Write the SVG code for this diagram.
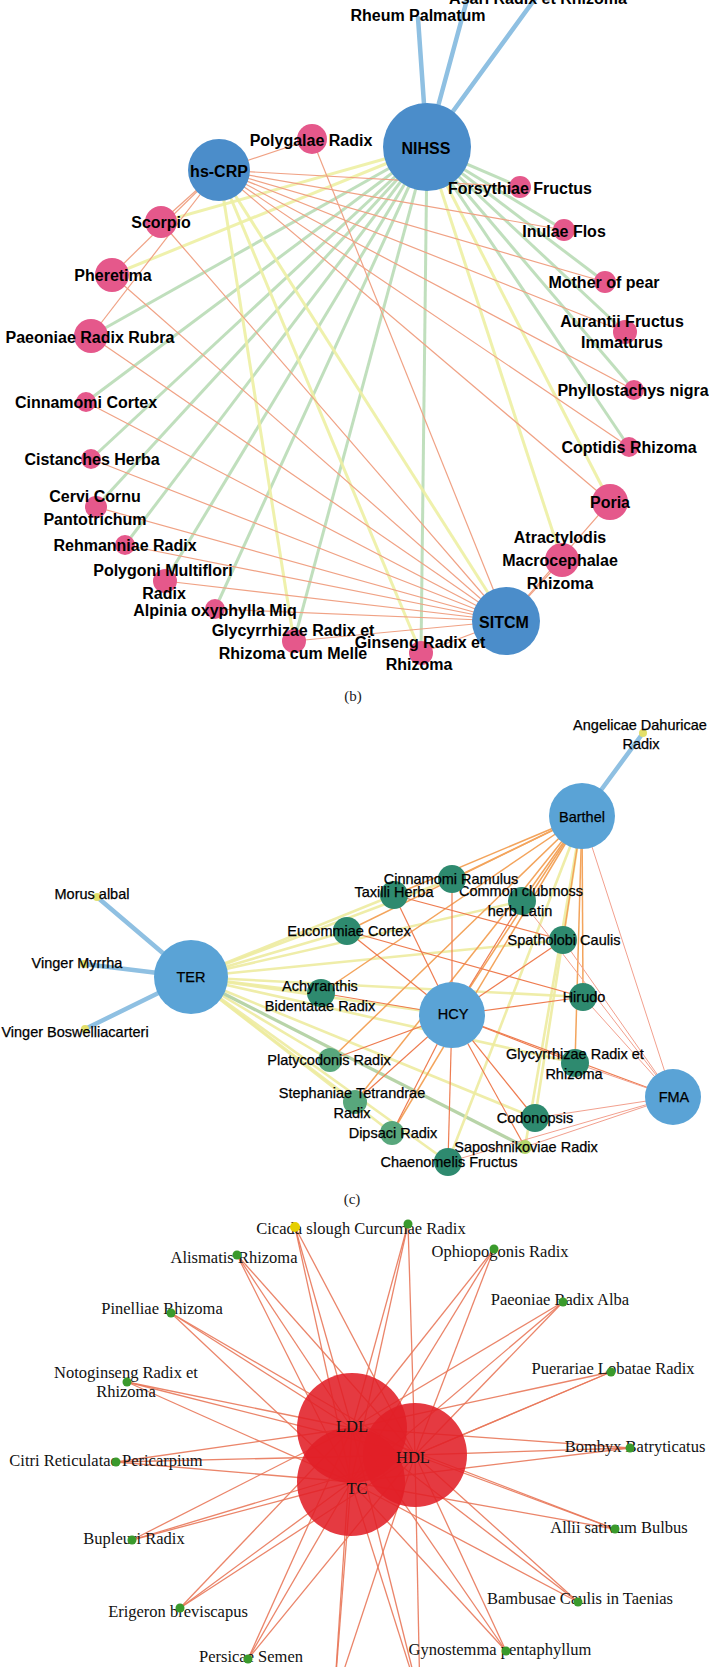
<svg xmlns="http://www.w3.org/2000/svg" width="709" height="1667" viewBox="0 0 709 1667">
<style>
.tb{font-family:"Liberation Sans",Arial,sans-serif;font-weight:bold;font-size:16px;fill:#000;text-anchor:middle;dominant-baseline:central}
.tc{font-family:"Liberation Sans",Arial,sans-serif;font-size:14.5px;fill:#000;stroke:#000;stroke-width:0.25;text-anchor:middle;dominant-baseline:central}
.td{font-family:"Liberation Serif","Times New Roman",serif;font-size:16.5px;fill:#111;text-anchor:middle;dominant-baseline:central}
.cap{font-family:"Liberation Serif","Times New Roman",serif;font-size:15px;fill:#222;text-anchor:middle;dominant-baseline:central}
.bb{fill:#4b8dca}
.pk{fill:#e5588b}
.bc{fill:#5aa3d6}
.tl{fill:#2e8a6f}
.lg{fill:#58a77c}
.yd{fill:#e3df6a}
.rd{fill:#e11f27;opacity:.88}
.gd{fill:#3a9a2c}
.eb{stroke:#8fc0e2;stroke-width:4.5;stroke-linecap:round}
.eg{stroke:#b6dab2;stroke-width:3;opacity:.85}
.ey{stroke:#eef0a4;stroke-width:3;opacity:.9}
.eo{stroke:#f0a285;stroke-width:1.2}
.cy{stroke:#eeeca0;stroke-width:2.6;opacity:.9}
.cg{stroke:#b8d4a8;stroke-width:3.2}
.co{stroke:#f3a45c;stroke-width:1.5}
.cr{stroke:#ee7c50;stroke-width:1.2}
.cf{stroke:#f2a08e;stroke-width:1}
.dr{stroke:#e9785a;stroke-width:1.3;opacity:.9}
</style>
<rect width="709" height="1667" fill="#fff"/>
<g id="connectors">
<!-- panel b -->
<line class="eb" x1="427" y1="147" x2="418" y2="18"/>
<line class="eb" x1="427" y1="147" x2="468" y2="-4"/>
<line class="eb" x1="427" y1="147" x2="537" y2="-4"/>
<line class="eg" x1="427" y1="147" x2="520" y2="187"/>
<line class="eg" x1="427" y1="147" x2="564" y2="230"/>
<line class="eg" x1="427" y1="147" x2="605" y2="282"/>
<line class="eg" x1="427" y1="147" x2="625" y2="332"/>
<line class="eg" x1="427" y1="147" x2="634" y2="390"/>
<line class="eg" x1="427" y1="147" x2="629" y2="447"/>
<line class="eg" x1="427" y1="147" x2="91" y2="336"/>
<line class="eg" x1="427" y1="147" x2="86" y2="402"/>
<line class="eg" x1="427" y1="147" x2="91" y2="459"/>
<line class="eg" x1="427" y1="147" x2="96" y2="507"/>
<line class="eg" x1="427" y1="147" x2="125" y2="545"/>
<line class="eg" x1="427" y1="147" x2="165" y2="581"/>
<line class="eg" x1="427" y1="147" x2="215" y2="609"/>
<line class="eg" x1="427" y1="147" x2="294" y2="641"/>
<line class="eg" x1="427" y1="147" x2="421" y2="653"/>
<line class="ey" x1="427" y1="147" x2="161" y2="222"/>
<line class="ey" x1="427" y1="147" x2="112" y2="275"/>
<line class="ey" x1="427" y1="147" x2="610" y2="502"/>
<line class="ey" x1="427" y1="147" x2="562" y2="560"/>
<line class="ey" x1="219" y1="170" x2="506" y2="621"/>
<line class="ey" x1="219" y1="170" x2="421" y2="653"/>
<line class="ey" x1="219" y1="170" x2="294" y2="641"/>
<line class="eo" x1="219" y1="170" x2="312" y2="139"/>
<line class="eo" x1="219" y1="170" x2="161" y2="222"/>
<line class="eo" x1="219" y1="170" x2="112" y2="275"/>
<line class="eo" x1="219" y1="170" x2="91" y2="336"/>
<line class="eo" x1="219" y1="170" x2="520" y2="187"/>
<line class="eo" x1="219" y1="170" x2="564" y2="230"/>
<line class="eo" x1="219" y1="170" x2="605" y2="282"/>
<line class="eo" x1="219" y1="170" x2="625" y2="332"/>
<line class="eo" x1="219" y1="170" x2="634" y2="390"/>
<line class="eo" x1="219" y1="170" x2="629" y2="447"/>
<line class="eo" x1="219" y1="170" x2="610" y2="502"/>
<line class="eo" x1="506" y1="621" x2="312" y2="139"/>
<line class="eo" x1="506" y1="621" x2="161" y2="222"/>
<line class="eo" x1="506" y1="621" x2="112" y2="275"/>
<line class="eo" x1="506" y1="621" x2="91" y2="336"/>
<line class="eo" x1="506" y1="621" x2="86" y2="402"/>
<line class="eo" x1="506" y1="621" x2="91" y2="459"/>
<line class="eo" x1="506" y1="621" x2="96" y2="507"/>
<line class="eo" x1="506" y1="621" x2="125" y2="545"/>
<line class="eo" x1="506" y1="621" x2="165" y2="581"/>
<line class="eo" x1="506" y1="621" x2="215" y2="609"/>
<line class="eo" x1="506" y1="621" x2="294" y2="641"/>
<line class="eo" x1="506" y1="621" x2="421" y2="653"/>
<line class="eo" x1="506" y1="621" x2="610" y2="502"/>
<line class="eo" x1="506" y1="621" x2="562" y2="560"/>
<!-- panel c -->
<line class="eb" x1="582" y1="816" x2="643" y2="733"/>
<line class="eb" x1="191" y1="977" x2="97" y2="897"/>
<line class="eb" x1="191" y1="977" x2="84" y2="964"/>
<line class="eb" x1="191" y1="977" x2="85" y2="1029"/>
<line class="cy" x1="191" y1="977" x2="394" y2="895"/>
<line class="cy" x1="191" y1="977" x2="452" y2="879"/>
<line class="cy" x1="191" y1="977" x2="522" y2="901"/>
<line class="cy" x1="191" y1="977" x2="347" y2="931"/>
<line class="cy" x1="191" y1="977" x2="563" y2="940"/>
<line class="cy" x1="191" y1="977" x2="321" y2="993"/>
<line class="cy" x1="191" y1="977" x2="583" y2="997"/>
<line class="cy" x1="191" y1="977" x2="452" y2="1015"/>
<line class="cy" x1="191" y1="977" x2="330" y2="1060"/>
<line class="cy" x1="191" y1="977" x2="355" y2="1102"/>
<line class="cy" x1="191" y1="977" x2="392" y2="1133"/>
<line class="cy" x1="191" y1="977" x2="448" y2="1162"/>
<line class="cy" x1="191" y1="977" x2="535" y2="1118"/>
<line class="cy" x1="191" y1="977" x2="575" y2="1063"/>
<line class="cg" x1="191" y1="977" x2="525" y2="1147"/>
<line class="cy" x1="582" y1="816" x2="525" y2="1147"/>
<line class="cy" x1="582" y1="816" x2="535" y2="1118"/>
<line class="cy" x1="582" y1="816" x2="448" y2="1162"/>
<line class="co" x1="582" y1="816" x2="452" y2="879"/>
<line class="co" x1="582" y1="816" x2="394" y2="895"/>
<line class="co" x1="582" y1="816" x2="347" y2="931"/>
<line class="co" x1="582" y1="816" x2="321" y2="993"/>
<line class="co" x1="582" y1="816" x2="330" y2="1060"/>
<line class="co" x1="582" y1="816" x2="392" y2="1133"/>
<line class="co" x1="582" y1="816" x2="355" y2="1102"/>
<line class="co" x1="582" y1="816" x2="583" y2="997"/>
<line class="co" x1="582" y1="816" x2="575" y2="1063"/>
<line class="co" x1="582" y1="816" x2="563" y2="940"/>
<line class="co" x1="582" y1="816" x2="522" y2="901"/>
<line class="co" x1="582" y1="816" x2="452" y2="1015"/>
<line class="cr" x1="452" y1="1015" x2="452" y2="879"/>
<line class="cr" x1="452" y1="1015" x2="394" y2="895"/>
<line class="cr" x1="452" y1="1015" x2="522" y2="901"/>
<line class="cr" x1="452" y1="1015" x2="347" y2="931"/>
<line class="cr" x1="452" y1="1015" x2="563" y2="940"/>
<line class="cr" x1="452" y1="1015" x2="321" y2="993"/>
<line class="cr" x1="452" y1="1015" x2="583" y2="997"/>
<line class="cr" x1="452" y1="1015" x2="330" y2="1060"/>
<line class="cr" x1="452" y1="1015" x2="575" y2="1063"/>
<line class="cr" x1="452" y1="1015" x2="535" y2="1118"/>
<line class="cr" x1="452" y1="1015" x2="392" y2="1133"/>
<line class="cr" x1="452" y1="1015" x2="448" y2="1162"/>
<line class="cr" x1="452" y1="1015" x2="525" y2="1147"/>
<line class="cr" x1="452" y1="1015" x2="355" y2="1102"/>
<line class="cr" x1="452" y1="1015" x2="673" y2="1097"/>
<line class="cr" x1="394" y1="895" x2="563" y2="940"/>
<line class="cr" x1="347" y1="931" x2="583" y2="997"/>
<line class="cf" x1="673" y1="1097" x2="583" y2="997"/>
<line class="cf" x1="673" y1="1097" x2="575" y2="1063"/>
<line class="cf" x1="673" y1="1097" x2="535" y2="1118"/>
<line class="cf" x1="673" y1="1097" x2="563" y2="940"/>
<line class="cf" x1="673" y1="1097" x2="522" y2="901"/>
<line class="cf" x1="673" y1="1097" x2="525" y2="1147"/>
<line class="cf" x1="673" y1="1097" x2="448" y2="1162"/>
<line class="cf" x1="673" y1="1097" x2="582" y2="816"/>
<!-- panel d -->
<line class="dr" x1="295" y1="1227" x2="352" y2="1428"/>
<line class="dr" x1="295" y1="1227" x2="415" y2="1455"/>
<line class="dr" x1="295" y1="1227" x2="351" y2="1482"/>
<line class="dr" x1="408" y1="1224" x2="352" y2="1428"/>
<line class="dr" x1="408" y1="1224" x2="415" y2="1455"/>
<line class="dr" x1="408" y1="1224" x2="351" y2="1482"/>
<line class="dr" x1="237" y1="1255" x2="352" y2="1428"/>
<line class="dr" x1="237" y1="1255" x2="415" y2="1455"/>
<line class="dr" x1="237" y1="1255" x2="351" y2="1482"/>
<line class="dr" x1="494" y1="1249" x2="352" y2="1428"/>
<line class="dr" x1="494" y1="1249" x2="415" y2="1455"/>
<line class="dr" x1="494" y1="1249" x2="351" y2="1482"/>
<line class="dr" x1="171" y1="1313" x2="352" y2="1428"/>
<line class="dr" x1="171" y1="1313" x2="415" y2="1455"/>
<line class="dr" x1="171" y1="1313" x2="351" y2="1482"/>
<line class="dr" x1="563" y1="1302" x2="352" y2="1428"/>
<line class="dr" x1="563" y1="1302" x2="415" y2="1455"/>
<line class="dr" x1="563" y1="1302" x2="351" y2="1482"/>
<line class="dr" x1="127" y1="1382" x2="352" y2="1428"/>
<line class="dr" x1="127" y1="1382" x2="415" y2="1455"/>
<line class="dr" x1="127" y1="1382" x2="351" y2="1482"/>
<line class="dr" x1="611" y1="1372" x2="352" y2="1428"/>
<line class="dr" x1="611" y1="1372" x2="415" y2="1455"/>
<line class="dr" x1="611" y1="1372" x2="351" y2="1482"/>
<line class="dr" x1="630" y1="1448" x2="352" y2="1428"/>
<line class="dr" x1="630" y1="1448" x2="415" y2="1455"/>
<line class="dr" x1="630" y1="1448" x2="351" y2="1482"/>
<line class="dr" x1="116" y1="1462" x2="352" y2="1428"/>
<line class="dr" x1="116" y1="1462" x2="415" y2="1455"/>
<line class="dr" x1="116" y1="1462" x2="351" y2="1482"/>
<line class="dr" x1="132" y1="1540" x2="352" y2="1428"/>
<line class="dr" x1="132" y1="1540" x2="415" y2="1455"/>
<line class="dr" x1="132" y1="1540" x2="351" y2="1482"/>
<line class="dr" x1="615" y1="1529" x2="352" y2="1428"/>
<line class="dr" x1="615" y1="1529" x2="415" y2="1455"/>
<line class="dr" x1="615" y1="1529" x2="351" y2="1482"/>
<line class="dr" x1="180" y1="1608" x2="352" y2="1428"/>
<line class="dr" x1="180" y1="1608" x2="415" y2="1455"/>
<line class="dr" x1="180" y1="1608" x2="351" y2="1482"/>
<line class="dr" x1="578" y1="1602" x2="352" y2="1428"/>
<line class="dr" x1="578" y1="1602" x2="415" y2="1455"/>
<line class="dr" x1="578" y1="1602" x2="351" y2="1482"/>
<line class="dr" x1="248" y1="1659" x2="352" y2="1428"/>
<line class="dr" x1="248" y1="1659" x2="415" y2="1455"/>
<line class="dr" x1="248" y1="1659" x2="351" y2="1482"/>
<line class="dr" x1="506" y1="1651" x2="352" y2="1428"/>
<line class="dr" x1="506" y1="1651" x2="415" y2="1455"/>
<line class="dr" x1="506" y1="1651" x2="351" y2="1482"/>
<line class="dr" x1="334" y1="1700" x2="352" y2="1428"/>
<line class="dr" x1="334" y1="1700" x2="415" y2="1455"/>
<line class="dr" x1="334" y1="1700" x2="351" y2="1482"/>
<line class="dr" x1="420" y1="1700" x2="352" y2="1428"/>
<line class="dr" x1="420" y1="1700" x2="415" y2="1455"/>
<line class="dr" x1="420" y1="1700" x2="351" y2="1482"/>
</g>
<!-- panel b nodes -->
<g id="asari"><text class="tb" x="538" y="-2">Asari Radix et Rhizoma</text></g>
<g id="rheum"><text class="tb" x="418" y="15">Rheum Palmatum</text></g>
<g id="nihss"><circle class="bb" cx="427" cy="147" r="44"/><text class="tb" x="426" y="148">NIHSS</text></g>
<g id="hscrp"><circle class="bb" cx="219" cy="170" r="31"/><text class="tb" x="219" y="171">hs-CRP</text></g>
<g id="sitcm"><circle class="bb" cx="506" cy="621" r="34"/><text class="tb" x="504" y="622">SITCM</text></g>
<g id="polygalae"><circle class="pk" cx="312" cy="139" r="15"/><text class="tb" x="311" y="140">Polygalae Radix</text></g>
<g id="forsythiae"><circle class="pk" cx="520" cy="187" r="11"/><text class="tb" x="520" y="188">Forsythiae Fructus</text></g>
<g id="inulae"><circle class="pk" cx="564" cy="230" r="11"/><text class="tb" x="564" y="231">Inulae Flos</text></g>
<g id="scorpio"><circle class="pk" cx="161" cy="222" r="16"/><text class="tb" x="161" y="222">Scorpio</text></g>
<g id="pheretima"><circle class="pk" cx="112" cy="275" r="17"/><text class="tb" x="113" y="275">Pheretima</text></g>
<g id="mother"><circle class="pk" cx="605" cy="282" r="11"/><text class="tb" x="604" y="282">Mother of pear</text></g>
<g id="aurantii"><circle class="pk" cx="625" cy="332" r="12"/><text class="tb" x="622" y="321">Aurantii Fructus</text><text class="tb" x="622" y="342">Immaturus</text></g>
<g id="paeoniae-rubra"><circle class="pk" cx="91" cy="336" r="17"/><text class="tb" x="90" y="337">Paeoniae Radix Rubra</text></g>
<g id="phyllostachys"><circle class="pk" cx="634" cy="390" r="10"/><text class="tb" x="633" y="390">Phyllostachys nigra</text></g>
<g id="cinnamomi-cortex"><circle class="pk" cx="86" cy="402" r="10"/><text class="tb" x="86" y="402">Cinnamomi Cortex</text></g>
<g id="coptidis"><circle class="pk" cx="629" cy="447" r="10"/><text class="tb" x="629" y="447">Coptidis Rhizoma</text></g>
<g id="cistanches"><circle class="pk" cx="91" cy="459" r="10"/><text class="tb" x="92" y="459">Cistanches Herba</text></g>
<g id="poria"><circle class="pk" cx="610" cy="502" r="18"/><text class="tb" x="610" y="502">Poria</text></g>
<g id="cervi"><circle class="pk" cx="96" cy="507" r="11"/><text class="tb" x="95" y="496">Cervi Cornu</text><text class="tb" x="95" y="519">Pantotrichum</text></g>
<g id="atractylodis"><circle class="pk" cx="562" cy="560" r="17"/><text class="tb" x="560" y="537">Atractylodis</text><text class="tb" x="560" y="560">Macrocephalae</text><text class="tb" x="560" y="583">Rhizoma</text></g>
<g id="rehmanniae"><circle class="pk" cx="125" cy="545" r="10"/><text class="tb" x="125" y="545">Rehmanniae Radix</text></g>
<g id="polygoni"><circle class="pk" cx="165" cy="581" r="12"/><text class="tb" x="163" y="570">Polygoni Multiflori</text><text class="tb" x="164" y="593">Radix</text></g>
<g id="alpinia"><circle class="pk" cx="215" cy="609" r="10"/><text class="tb" x="215" y="610">Alpinia oxyphylla Miq</text></g>
<g id="glycyrrhizae-melle"><circle class="pk" cx="294" cy="641" r="12"/><text class="tb" x="293" y="630">Glycyrrhizae Radix et</text><text class="tb" x="293" y="653">Rhizoma cum Melle</text></g>
<g id="ginseng"><circle class="pk" cx="421" cy="653" r="12"/><text class="tb" x="420" y="642">Ginseng Radix et</text><text class="tb" x="419" y="664">Rhizoma</text></g>
<text class="cap" x="353" y="696">(b)</text>
<!-- panel c nodes -->
<g id="angelicae"><circle class="yd" cx="643" cy="733" r="4"/><text class="tc" x="640" y="725">Angelicae Dahuricae</text><text class="tc" x="641" y="744">Radix</text></g>
<g id="barthel"><circle class="bc" cx="582" cy="816" r="33"/><text class="tc" x="582" y="817">Barthel</text></g>
<g id="morus"><circle class="yd" cx="97" cy="897" r="4"/><text class="tc" x="92" y="894">Morus albal</text></g>
<g id="myrrha"><circle class="yd" cx="84" cy="964" r="4"/><text class="tc" x="77" y="963">Vinger Myrrha</text></g>
<g id="boswellia"><circle class="yd" cx="85" cy="1029" r="4"/><text class="tc" x="75" y="1032">Vinger Boswelliacarteri</text></g>
<g id="ter"><circle class="bc" cx="191" cy="977" r="37"/><text class="tc" x="191" y="977">TER</text></g>
<g id="hcy"><circle class="bc" cx="452" cy="1015" r="33"/><text class="tc" x="453" y="1014">HCY</text></g>
<g id="fma"><circle class="bc" cx="673" cy="1097" r="28"/><text class="tc" x="674" y="1097">FMA</text></g>
<g id="taxilli"><circle class="tl" cx="394" cy="895" r="14"/><text class="tc" x="394" y="892">Taxilli Herba</text></g>
<g id="clubmoss"><circle class="tl" cx="522" cy="901" r="14"/><text class="tc" x="521" y="891">Common clubmoss</text><text class="tc" x="520" y="911">herb Latin</text></g>
<g id="cinnamomi-ramulus"><circle class="tl" cx="452" cy="879" r="14"/><text class="tc" x="451" y="879">Cinnamomi Ramulus</text></g>
<g id="eucommiae"><circle class="tl" cx="347" cy="931" r="14"/><text class="tc" x="349" y="931">Eucommiae Cortex</text></g>
<g id="spatholobi"><circle class="tl" cx="563" cy="940" r="14"/><text class="tc" x="564" y="940">Spatholobi Caulis</text></g>
<g id="achyranthis"><circle class="tl" cx="321" cy="993" r="14"/><text class="tc" x="320" y="986">Achyranthis</text><text class="tc" x="320" y="1006">Bidentatae Radix</text></g>
<g id="hirudo"><circle class="tl" cx="583" cy="997" r="14"/><text class="tc" x="584" y="997">Hirudo</text></g>
<g id="platycodonis"><circle class="lg" cx="330" cy="1060" r="12"/><text class="tc" x="329" y="1060">Platycodonis Radix</text></g>
<g id="glycyrrhizae"><circle class="tl" cx="575" cy="1063" r="14"/><text class="tc" x="575" y="1054">Glycyrrhizae Radix et</text><text class="tc" x="574" y="1074">Rhizoma</text></g>
<g id="stephaniae"><circle class="lg" cx="355" cy="1102" r="12"/><text class="tc" x="352" y="1093">Stephaniae Tetrandrae</text><text class="tc" x="352" y="1113">Radix</text></g>
<g id="codonopsis"><circle class="tl" cx="535" cy="1118" r="14"/><text class="tc" x="535" y="1118">Codonopsis</text></g>
<g id="dipsaci"><circle class="lg" cx="392" cy="1133" r="12"/><text class="tc" x="393" y="1133">Dipsaci Radix</text></g>
<g id="saposhnikoviae"><circle fill="#b4d66a" cx="525" cy="1147" r="7"/><text class="tc" x="526" y="1147">Saposhnikoviae Radix</text></g>
<g id="chaenomelis"><circle class="tl" cx="448" cy="1162" r="14"/><text class="tc" x="449" y="1162">Chaenomelis Fructus</text></g>
<text class="cap" x="352" y="1199">(c)</text>
<!-- panel d nodes -->
<g id="ldl"><circle class="rd" cx="352" cy="1428" r="55"/></g>
<g id="hdl"><circle class="rd" cx="415" cy="1455" r="52"/></g>
<g id="tc"><circle class="rd" cx="351" cy="1482" r="54"/></g>
<text class="td" x="352" y="1426">LDL</text>
<text class="td" x="413" y="1457">HDL</text>
<text class="td" x="357" y="1488">TC</text>
<g id="cicada"><text class="td" x="361" y="1228">Cicada slough Curcumae Radix</text><circle fill="#e6cf00" cx="295" cy="1227" r="5"/><circle class="gd" cx="408" cy="1224" r="4.5"/></g>
<g id="alismatis"><text class="td" x="234" y="1257">Alismatis Rhizoma</text><circle class="gd" cx="237" cy="1255" r="4.5"/></g>
<g id="ophiopogonis"><text class="td" x="500" y="1251">Ophiopogonis Radix</text><circle class="gd" cx="494" cy="1249" r="4.5"/></g>
<g id="pinelliae"><text class="td" x="162" y="1308">Pinelliae Rhizoma</text><circle class="gd" cx="171" cy="1313" r="4.5"/></g>
<g id="paeoniae-alba"><text class="td" x="560" y="1299">Paeoniae Radix Alba</text><circle class="gd" cx="563" cy="1302" r="4.5"/></g>
<g id="notoginseng"><text class="td" x="126" y="1372">Notoginseng Radix et</text><text class="td" x="126" y="1391">Rhizoma</text><circle class="gd" cx="127" cy="1382" r="4.5"/></g>
<g id="puerariae"><text class="td" x="613" y="1368">Puerariae Lobatae Radix</text><circle class="gd" cx="611" cy="1372" r="4.5"/></g>
<g id="bombyx"><text class="td" x="635" y="1446">Bombyx Batryticatus</text><circle class="gd" cx="630" cy="1448" r="4.5"/></g>
<g id="citri"><text class="td" x="106" y="1460">Citri Reticulatae Pericarpium</text><circle class="gd" cx="116" cy="1462" r="4.5"/></g>
<g id="bupleuri"><text class="td" x="134" y="1538">Bupleuri Radix</text><circle class="gd" cx="132" cy="1540" r="4.5"/></g>
<g id="allii"><text class="td" x="619" y="1527">Allii sativum Bulbus</text><circle class="gd" cx="615" cy="1529" r="4.5"/></g>
<g id="erigeron"><text class="td" x="178" y="1611">Erigeron breviscapus</text><circle class="gd" cx="180" cy="1608" r="4.5"/></g>
<g id="bambusae"><text class="td" x="580" y="1598">Bambusae Caulis in Taenias</text><circle class="gd" cx="578" cy="1602" r="4.5"/></g>
<g id="persicae"><text class="td" x="251" y="1656">Persicae Semen</text><circle class="gd" cx="248" cy="1659" r="4.5"/></g>
<g id="gynostemma"><text class="td" x="500" y="1649">Gynostemma pentaphyllum</text><circle class="gd" cx="506" cy="1651" r="4.5"/></g>
</svg>
